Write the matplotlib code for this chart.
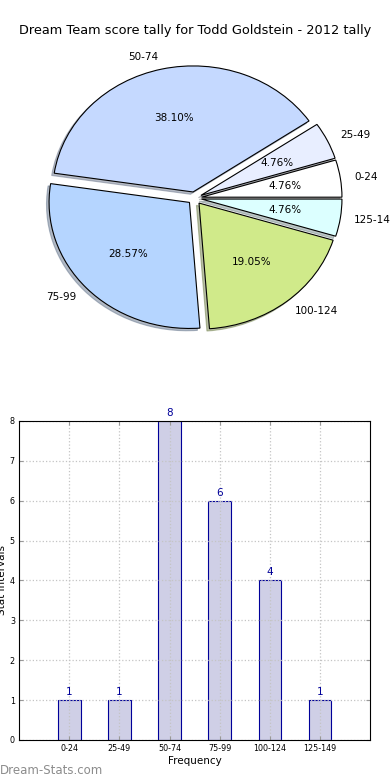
import matplotlib
matplotlib.use('Agg')
import matplotlib.pyplot as plt
import numpy as np

# data
intervals = ['0-24', '25-49', '50-74', '75-99', '100-124', '125-149']
counts = [1, 1, 8, 6, 4, 1]
pie_colors = ['#ffffff', '#e8eeff', '#c5d9ff', '#b5d5ff', '#d0ea8a', '#dcffff']
title = 'Dream Team score tally for Todd Goldstein - 2012 tally'

fig = plt.figure(figsize=(3.9, 7.8), dpi=100)

# pie
ax1 = fig.add_axes([0.049, 0.544, 0.9, 0.404])
wedges, texts, autotexts = ax1.pie(counts, labels=intervals, colors=pie_colors,
                                   explode=[0.05] * len(counts),
                                   shadow={'ox': -0.013, 'oy': -0.013, 'shade': 0.45},
                                   autopct='%1.2f%%', startangle=0,
                                   wedgeprops={'edgecolor': 'black', 'linewidth': 0.8},
                                   textprops={'fontsize': 7.5})
ax1.set_aspect('auto')
ax1.set_xlim(-1.25, 1.25)
ax1.set_ylim(-1.25, 1.25)
fig.text(0.5, 0.961, title, ha='center', va='center', fontsize=9.3)

# bars
ax2 = fig.add_axes([0.049, 0.0513, 0.9, 0.409])
x = np.arange(len(intervals))
ax2.bar(x, counts, width=0.45, color='#cfcfe6', edgecolor='#000099', linewidth=0.8)
for xi, c in zip(x, counts):
    ax2.text(xi, c + 0.08, str(c), ha='center', va='bottom', color='#000099', fontsize=7.5)
ax2.set_xlim(-1, 6)
ax2.set_ylim(0, 8)
ax2.set_xticks(x)
ax2.set_xticklabels(intervals)
ax2.set_yticks(range(0, 9))
ax2.tick_params(labelsize=5.8, direction='in', top=True, right=True, length=3, pad=3,
                color='#999999')
ax2.grid(True, linestyle=':', color='#c4c4c4', linewidth=0.9)
ax2.set_axisbelow(False)
for s in ax2.spines.values():
    s.set_zorder(5)
ax2.set_xlabel('Frequency', fontsize=7.5, labelpad=2)
ax2.set_ylabel('Stat Intervals', fontsize=7.5, labelpad=2)

fig.text(0.0, 0.012, 'Dream-Stats.com', color='#8c8c8c', fontsize=8.5, ha='left', va='center')

fig.savefig('out.png', dpi=100)
